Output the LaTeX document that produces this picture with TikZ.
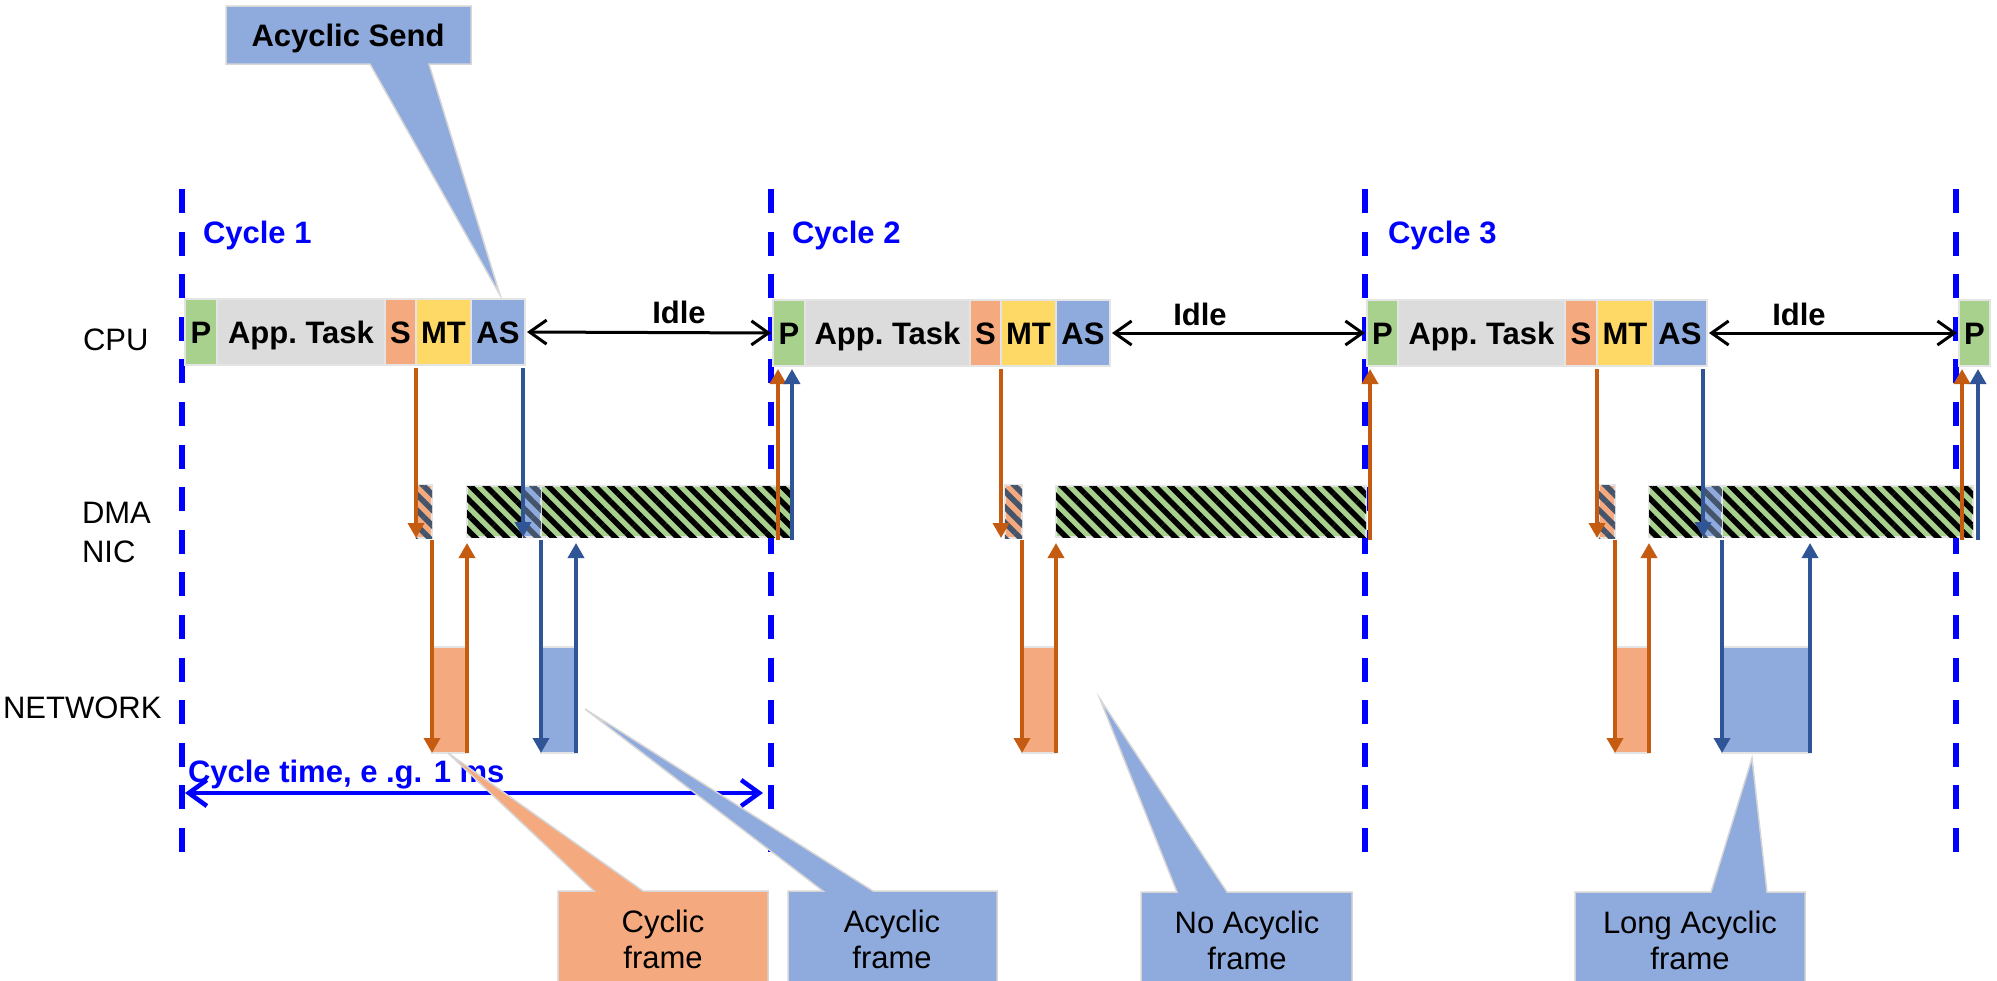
\documentclass[tikz,border=0pt]{standalone}
\usepackage{fontspec}
\setmainfont{Liberation Sans}
\usetikzlibrary{arrows.meta,patterns.meta,calc}

\definecolor{pgreen}{HTML}{A9D18E}
\definecolor{tgrey}{HTML}{DCDCDC}
\definecolor{sorange}{HTML}{F4AA7E}
\definecolor{myellow}{HTML}{FFD966}
\definecolor{ablue}{HTML}{8FAADC}
\definecolor{edgegrey}{HTML}{E4E4E4}
\definecolor{arrO}{HTML}{C55A11}
\definecolor{arrB}{HTML}{2F5597}
\definecolor{cycblue}{HTML}{0000FF}
\definecolor{slate}{HTML}{44546A}
\definecolor{calledge}{HTML}{D6D6D6}

\tikzset{
  txt/.style={font=\fontsize{31}{36}\selectfont},
  btxt/.style={font=\fontsize{31}{36}\selectfont\bfseries},
  cyclab/.style={font=\fontsize{31}{36}\selectfont\bfseries, text=cycblue, anchor=base west},
  seg/.style={draw=edgegrey, line width=2.5pt, anchor=north west,
    minimum width=#1, minimum height=66pt,
    font=\fontsize{31}{36}\selectfont\bfseries, text height=22pt, text depth=0pt},
  hatch/.style={postaction={pattern={Lines[angle=-45,distance=11pt,line width=5.5pt]}, pattern color=#1}},
  dmag/.style={fill=pgreen, draw=edgegrey, line width=1.5pt, hatch=black,
    anchor=north west, minimum width=#1, minimum height=51pt},
  dmao/.style={fill=sorange, draw=edgegrey, line width=1.5pt, hatch=slate,
    anchor=north west, minimum width=#1, minimum height=53pt},
  dmab/.style={fill=ablue, draw=edgegrey, line width=1.5pt, hatch=slate,
    anchor=north west, minimum width=#1, minimum height=51pt},
  neto/.style={fill=sorange, draw=edgegrey, line width=1.5pt,
    anchor=north west, minimum width=#1, minimum height=106pt},
  netb/.style={fill=ablue, draw=edgegrey, line width=1.5pt,
    anchor=north west, minimum width=#1, minimum height=106pt},
  cycline/.style={draw=cycblue, line width=5.5pt, dash pattern=on 24pt off 18.6pt},
  idlearrow/.style={draw=black, line width=3pt,
    arrows={Straight Barb[length=17pt,width=24pt]-Straight Barb[length=17pt,width=24pt]},
    shorten <=2pt, shorten >=2pt},
  ctime/.style={draw=cycblue, line width=4.5pt,
    arrows={Straight Barb[length=18pt,width=26pt]-Straight Barb[length=18pt,width=26pt]}},
  ao/.style={draw=arrO, line width=3.5pt, arrows={-Triangle[length=15pt,width=16pt]}},
  ab/.style={draw=arrB, line width=3.5pt, arrows={-Triangle[length=15pt,width=16pt]}},
  callb/.style={fill=ablue, draw=calledge, line width=1.5pt},
  callo/.style={fill=sorange, draw=calledge, line width=1.5pt},
  calltxt/.style={font=\fontsize{31}{36}\selectfont, align=center, anchor=base},
}

\begin{document}
\begin{tikzpicture}[x=1pt,y=-1pt, every node/.style={inner sep=0pt, outer sep=0pt}]
\useasboundingbox (0,0) rectangle (1997,980);
\clip (0,0) rectangle (1997,980);

% cycle boundaries
\foreach \d in {182,771,1365,1956}
  \draw[cycline] (\d,189) -- (\d,852);

% row labels
\node[txt, anchor=base west] (cpu) at (83,350) {CPU};
\node[txt, anchor=base west] (dma) at (82,523) {DMA};
\node[txt, anchor=base west] (nic) at (82,562) {NIC};
\node[txt, anchor=base west] (net) at (3,718) {NETWORK};

% cycle labels
\node[cyclab] (c1) at (203,243) {Cycle 1};
\node[cyclab] (c2) at (792,243) {Cycle 2};
\node[cyclab] (c3) at (1388,243) {Cycle 3};

% CPU activity, cycle 1
\node[seg=32pt, fill=pgreen] (P1) at (185,299) {P};
\node[seg=168pt, fill=tgrey] (A1) at (P1.north east) {App.\ Task};
\node[seg=31pt, fill=sorange] (S1) at (A1.north east) {S};
\node[seg=55pt, fill=myellow] (M1) at (S1.north east) {MT};
\node[seg=54pt, fill=ablue] (X1) at (M1.north east) {AS};

% CPU activity, cycle 2
\node[seg=32pt, fill=pgreen] (P2) at (773,300) {P};
\node[seg=165pt, fill=tgrey] (A2) at (P2.north east) {App.\ Task};
\node[seg=31pt, fill=sorange] (S2) at (A2.north east) {S};
\node[seg=55pt, fill=myellow] (M2) at (S2.north east) {MT};
\node[seg=54pt, fill=ablue] (X2) at (M2.north east) {AS};

% CPU activity, cycle 3
\node[seg=31pt, fill=pgreen] (P3) at (1367,300) {P};
\node[seg=167pt, fill=tgrey] (A3) at (P3.north east) {App.\ Task};
\node[seg=32pt, fill=sorange] (S3) at (A3.north east) {S};
\node[seg=56pt, fill=myellow] (M3) at (S3.north east) {MT};
\node[seg=54pt, fill=ablue] (X3) at (M3.north east) {AS};

% start of cycle 4
\node[seg=31pt, fill=pgreen] (P4) at (1959,300) {P};

% idle periods
\draw[idlearrow] (X1.east) -- (P2.west);
\draw[idlearrow] (X2.east) -- (P3.west);
\draw[idlearrow] (X3.east) -- (P4.west);
\node[btxt, anchor=base] (i1) at (679,323) {Idle};
\node[btxt, anchor=base] (i2) at (1200,325) {Idle};
\node[btxt, anchor=base] (i3) at (1799,325) {Idle};

% DMA / NIC activity
\node[dmao=16pt] (o1) at (416,485) {};
\node[dmag=324pt] (g1) at (467,486) {};
\node[dmab=18pt] (b1) at (523,486) {};
\node[dmao=17pt] (o2) at (1005,485) {};
\node[dmag=310pt] (g2) at (1056,486) {};
\node[dmao=16pt] (o3) at (1599,485) {};
\node[dmag=324pt] (g3) at (1649,486) {};
\node[dmab=19pt] (b3) at (1703,486) {};

% frames on the network
\node[neto=35pt] (n1) at (432,647) {};
\node[netb=35pt] (m1) at (541,647) {};
\node[neto=34pt] (n2) at (1022,647) {};
\node[neto=34pt] (n3) at (1615,647) {};
\node[netb=88pt] (m3) at (1722,647) {};

% cycle 1 transfers
\draw[ao] ($(S1.south east)+(0,3)$) -- (S1.south east |- o1.south);
\draw[ao] ($(o1.south east)+(0,2)$) -- (n1.south west);
\draw[ao] (n1.south east) -- ($(g1.south west)+(0,6)$);
\draw[ab] ($(b1.west |- X1.south)+(0,3)$) -- (b1.south west);
\draw[ab] ($(b1.south east)+(0,3)$) -- (m1.south west);
\draw[ab] (m1.south east) -- ($(m1.south east |- g1.south)+(0,6)$);
\draw[ao] ($(P2.south west |- g1.south)+(5,3)$) -- ($(P2.south west)+(5,3)$);
\draw[ab] ($(P2.south west |- g1.south)+(19,3)$) -- ($(P2.south west)+(19,3)$);

% cycle 2 transfers
\draw[ao] ($(S2.south east)+(0,3)$) -- (S2.south east |- o2.south);
\draw[ao] ($(o2.south east)+(0,2)$) -- (n2.south west);
\draw[ao] (n2.south east) -- ($(g2.south west)+(0,6)$);
\draw[ao] ($(P3.south west |- g2.south)+(3,3)$) -- ($(P3.south west)+(3,3)$);

% cycle 3 transfers
\draw[ao] ($(S3.south east)+(0,3)$) -- (S3.south east |- o3.south);
\draw[ao] ($(o3.south east)+(0,2)$) -- (n3.south west);
\draw[ao] (n3.south east) -- ($(g3.south west)+(0,6)$);
\draw[ab] ($(b3.west |- X3.south)+(0,3)$) -- (b3.south west);
\draw[ab] ($(b3.south east)+(0,3)$) -- (m3.south west);
\draw[ab] (m3.south east) -- ($(m3.south east |- g3.south)+(0,6)$);
\draw[ao] ($(P4.south west |- g3.south)+(3,3)$) -- ($(P4.south west)+(3,3)$);
\draw[ab] ($(P4.south west |- g3.south)+(19,3)$) -- ($(P4.south west)+(19,3)$);

% cycle time
\coordinate (ctl) at (185,793);
\coordinate (ctr) at (763,793);
\draw[ctime] (ctl) -- (ctr);
\node[btxt, text=cycblue, anchor=base west] (ctlab) at (188,782) {Cycle time, e .g. 1 ms};

% callouts (the base anchor of a two-line label sits on its second line)
\draw[callb] (226,6) -- (471,6) -- (471,64) -- (429,64) -- (500,295) -- (370,64) -- (226,64) -- cycle;
\node[btxt, anchor=base] (acs) at (348,46) {Acyclic Send};

\draw[callo] (558,891) -- (594,891) -- (448,753) -- (643,891) -- (768,891) -- (768,1000) -- (558,1000) -- cycle;
\node[calltxt] (cyf) at (663,968) {Cyclic\\frame};

\draw[callb] (788,891) -- (823,891) -- (585,709) -- (873,891) -- (997,891) -- (997,1000) -- (788,1000) -- cycle;
\node[calltxt] (acf) at (892,968) {Acyclic\\frame};

\draw[callb] (1141,892) -- (1177,892) -- (1100,699) -- (1227,892) -- (1352,892) -- (1352,1000) -- (1141,1000) -- cycle;
\node[calltxt] (naf) at (1247,969) {No Acyclic\\frame};

\draw[callb] (1575,892) -- (1711,892) -- (1752,758) -- (1767,892) -- (1805,892) -- (1805,1000) -- (1575,1000) -- cycle;
\node[calltxt] (laf) at (1690,969) {Long Acyclic\\frame};
\end{tikzpicture}
\end{document}
